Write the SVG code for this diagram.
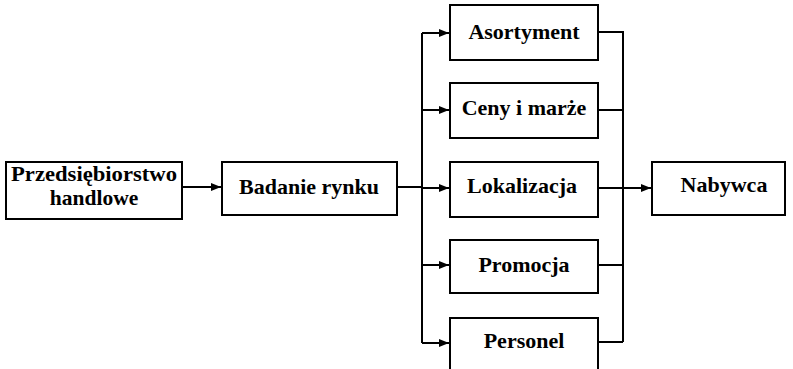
<svg xmlns="http://www.w3.org/2000/svg" width="793" height="369" viewBox="0 0 793 369">
  <style>
    .box { fill: #fff; stroke: #000; stroke-width: 2; }
    .lbl { font-family: "Liberation Serif", "Times New Roman", serif; font-weight: bold; font-size: 22px; fill: #000; text-anchor: middle; }
    .ln { fill: none; stroke: #000; stroke-width: 2; }
  </style>
  <defs>
    <marker id="arr" viewBox="0 0 10 8" refX="10" refY="4" markerWidth="10" markerHeight="8" markerUnits="userSpaceOnUse" orient="auto">
      <path d="M0,0 L10,4 L0,8 Z" fill="#000"/>
    </marker>
  </defs>
  <rect width="793" height="369" fill="#fff"/>

  <g id="connectors">
    <!-- Przedsiębiorstwo -> Badanie rynku -->
    <path class="ln" d="M182,187 H221" marker-end="url(#arr)"/>
    <!-- Badanie rynku to the distribution bus -->
    <path class="ln" d="M397,187 H422"/>
    <path class="ln" d="M422,33 V343"/>
    <path class="ln" d="M422,33 H449" marker-end="url(#arr)"/>
    <path class="ln" d="M422,110 H449" marker-end="url(#arr)"/>
    <path class="ln" d="M422,188 H449" marker-end="url(#arr)"/>
    <path class="ln" d="M422,265 H449" marker-end="url(#arr)"/>
    <path class="ln" d="M422,343 H449" marker-end="url(#arr)"/>
    <!-- collecting bus on the right -->
    <path class="ln" d="M598,32 H623 V342"/>
    <path class="ln" d="M598,110 H623"/>
    <path class="ln" d="M598,265 H623"/>
    <path class="ln" d="M598,342 H623"/>
    <path class="ln" d="M598,188 H651" marker-end="url(#arr)"/>
  </g>

  <g id="przedsiebiorstwo">
    <rect class="box" x="6" y="162" width="176" height="57"/>
    <text class="lbl" x="94" y="181" style="font-size:21.5px" textLength="166" lengthAdjust="spacingAndGlyphs">Przedsiębiorstwo</text>
    <text class="lbl" x="94" y="205" style="font-size:21.5px">handlowe</text>
  </g>
  <g id="badanie">
    <rect class="box" x="222" y="162" width="175" height="53"/>
    <text class="lbl" x="309" y="194">Badanie rynku</text>
  </g>
  <g id="asortyment">
    <rect class="box" x="450" y="5" width="148" height="55"/>
    <text class="lbl" x="524" y="39">Asortyment</text>
  </g>
  <g id="ceny">
    <rect class="box" x="450" y="83" width="148" height="55"/>
    <text class="lbl" x="524" y="115">Ceny i marże</text>
  </g>
  <g id="lokalizacja">
    <rect class="box" x="450" y="162" width="148" height="55"/>
    <text class="lbl" x="522" y="193">Lokalizacja</text>
  </g>
  <g id="promocja">
    <rect class="box" x="450" y="240" width="148" height="53"/>
    <text class="lbl" x="524" y="272">Promocja</text>
  </g>
  <g id="personel">
    <rect class="box" x="450" y="318" width="148" height="60"/>
    <text class="lbl" x="524" y="348">Personel</text>
  </g>
  <g id="nabywca">
    <rect class="box" x="652" y="162" width="133" height="53"/>
    <text class="lbl" x="724" y="192">Nabywca</text>
  </g>
</svg>
